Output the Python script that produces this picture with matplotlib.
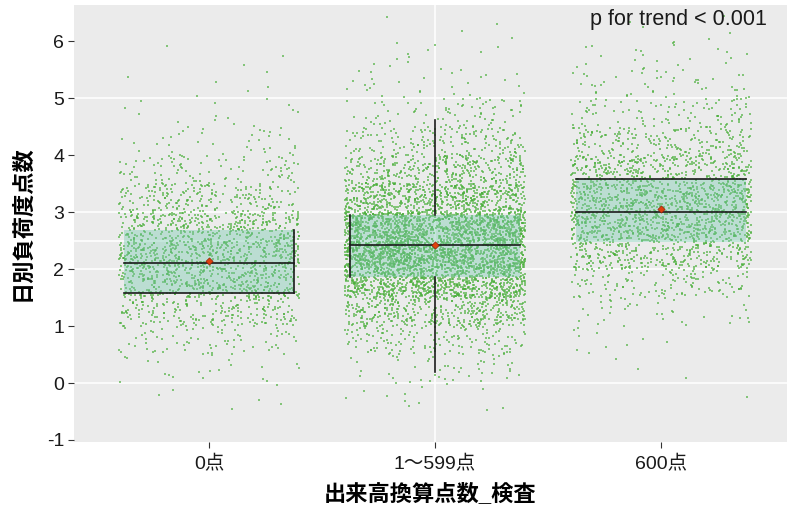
import numpy as np
import matplotlib
matplotlib.use("Agg")
from matplotlib import pyplot as plt

plt.rcParams['font.family'] = ['Liberation Sans', 'Noto Sans CJK JP', 'DejaVu Sans']

# categories and box statistics
groups = ['0点', '1～599点', '600点']
q1 = [1.58, 1.86, 2.48]
median = [2.10, 2.42, 3.01]
q3 = [2.68, 2.96, 3.59]
means = [2.14, 2.43, 3.05]
whisker_lo = 0.19   # only drawn for the middle group
whisker_hi = 4.62

# estimated point counts per 0.5-wide bin, from -0.5 up to 6.5
bin_edges = np.arange(-0.5, 6.51, 0.5)
counts_g1 = [6, 20, 70, 200, 400, 470, 360, 200, 90, 35, 14, 6, 3, 0]
counts_g2 = [12, 45, 140, 380, 850, 1250, 1100, 620, 330, 160, 70, 28, 12, 4]
counts_g3 = [1, 3, 10, 35, 120, 310, 540, 540, 360, 190, 90, 45, 22, 5]
all_counts = [counts_g1, counts_g2, counts_g3]

fig = plt.figure(figsize=(7.87, 5.12), dpi=100)
ax = fig.add_axes([74 / 787, (512 - 441.7) / 512, (787 - 74) / 787, (441.7 - 5) / 512])
ax.set_facecolor('#EBEBEB')
for s in ax.spines.values():
    s.set_visible(False)

# white grid lines as they show in the reference
for gy in [0, 2, 2.5, 3, 5]:
    ax.axhline(gy, color='white', lw=1.1, zorder=0)
ax.axvline(2, color='white', lw=1.1, zorder=0)

# points: values spread evenly inside each bin, horizontal jitter like geom_jitter
jit = np.random.default_rng(7)
for gi, counts in enumerate(all_counts):
    ys = []
    for lo, c in zip(bin_edges[:-1], counts):
        ys.extend(lo + 0.5 * (np.arange(c) + 0.5) / max(c, 1))
    ys = np.array(ys)
    xs = gi + 1 + jit.uniform(-0.4, 0.4, len(ys))
    ax.scatter(xs, ys, s=0.9, marker='s', color='#4caf3c', alpha=0.65,
               linewidths=0, zorder=1)

hw = 0.375
for i in range(3):
    x = i + 1
    ax.fill_between([x - hw, x + hw], q1[i], q3[i], color='#74c8ad',
                    alpha=0.4, lw=0, zorder=2)
    ax.plot([x - hw, x + hw], [median[i], median[i]], color='#1a1a1a', lw=1.2, zorder=3)

# box 1: bottom line and right edge
ax.plot([1 - hw, 1 + hw], [q1[0], q1[0]], color='#1a1a1a', lw=1.2, zorder=3)
ax.plot([1 + hw, 1 + hw], [q1[0], q3[0]], color='#1a1a1a', lw=1.2, zorder=3)
# box 2: left edge and whiskers
ax.plot([2 - hw, 2 - hw], [q1[1], q3[1]], color='#1a1a1a', lw=1.2, zorder=3)
ax.plot([2, 2], [q3[1], whisker_hi], color='#1a1a1a', lw=1.2, zorder=3)
ax.plot([2, 2], [whisker_lo, q1[1]], color='#1a1a1a', lw=1.2, zorder=3)
# box 3: top line
ax.plot([3 - hw, 3 + hw], [q3[2], q3[2]], color='#1a1a1a', lw=1.2, zorder=3)

ax.scatter([1, 2, 3], means, s=14, marker='D', color='#e0400f',
           edgecolors='#7a1a05', linewidths=0.4, zorder=4)

ax.set_xlim(0.4027, 3.557)
ax.set_ylim(-1.03, 6.64)
ax.set_xticks([1, 2, 3])
ax.set_xticklabels(groups, fontsize=14, color='#1a1a1a')
ax.set_yticks(range(-1, 7))
ax.set_yticklabels([str(v) for v in range(-1, 7)], fontsize=14, color='#1a1a1a')
ax.tick_params(axis='both', length=4, width=0.8, color='#333333', pad=3)
ax.tick_params(axis='x', pad=6)

ax.set_xlabel('出来高換算点数_検査', fontsize=16, fontweight='bold', labelpad=7)
ax.set_ylabel('日別負荷度点数', fontsize=16, fontweight='bold', labelpad=10)

ax.text(3.47, 6.38, 'p for trend < 0.001', ha='right', va='center',
        fontsize=15.5, color='#1a1a1a')

fig.savefig('out.png', dpi=100)
